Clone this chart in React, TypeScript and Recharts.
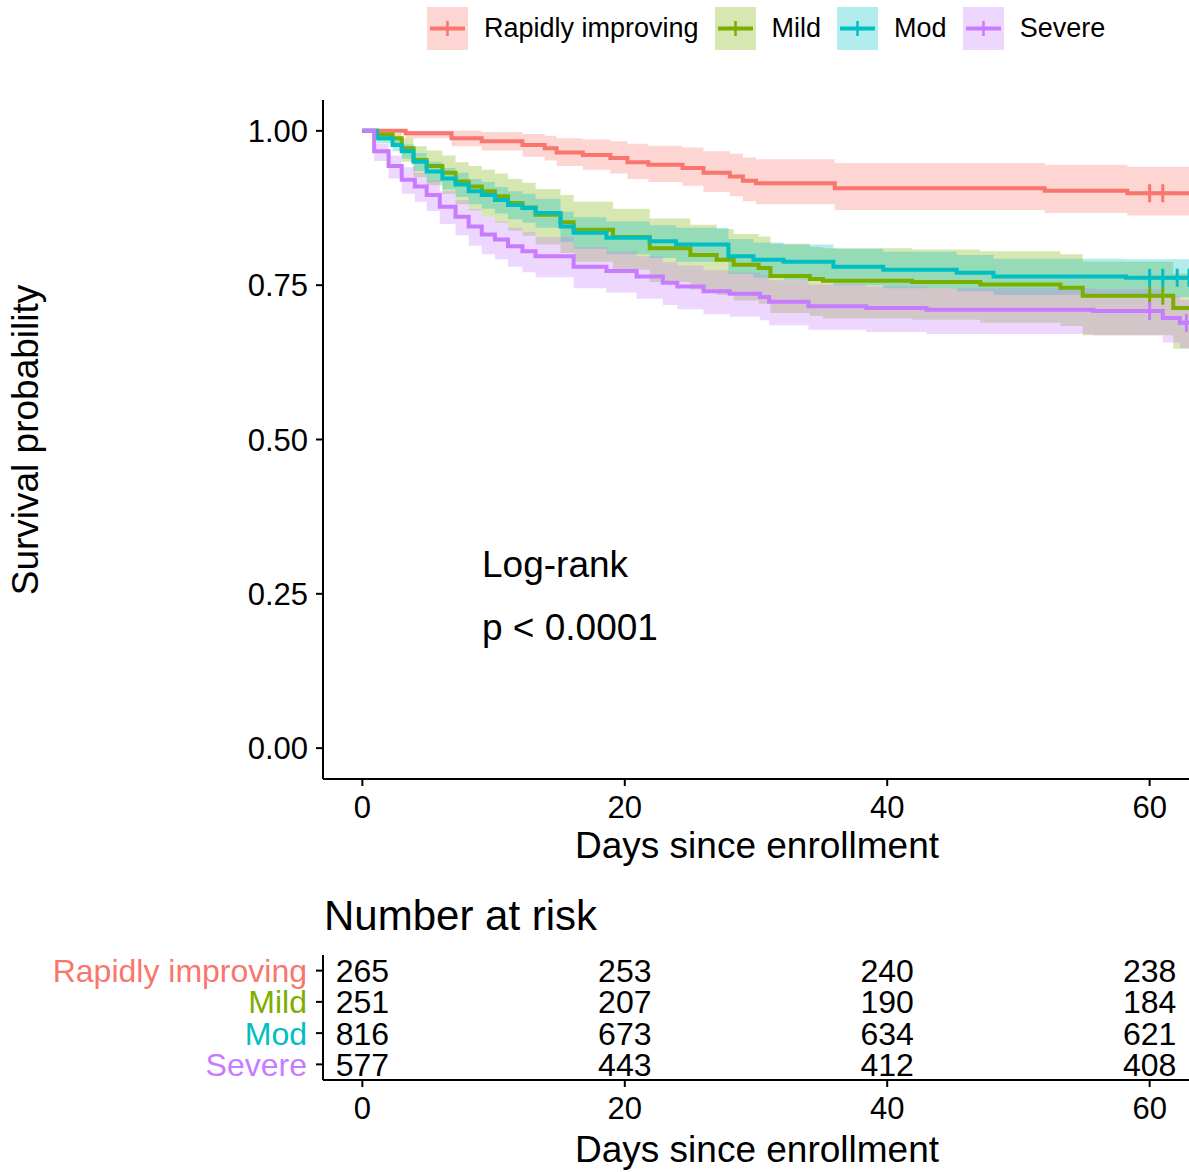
import React from "react";
import { ComposedChart, Line, Area, Scatter, XAxis, YAxis } from "recharts";

const GROUPS = ["Rapidly improving", "Mild", "Mod", "Severe"];
const GROUP_COLORS = ["#F8766D", "#7CAE00", "#00BFC4", "#C77CFF"];

// Rapidly improving
const rapidTime = [0, 3.3, 6.8, 9.1, 12.2, 13.9, 14.8, 16.8, 18.9, 20.2, 21.8, 24.4, 26.0, 28.0, 29.0, 30.0, 36.0, 52.0, 58.3, 63];
const rapidSurv = [1.0, 0.996, 0.988, 0.983, 0.977, 0.972, 0.965, 0.961, 0.956, 0.949, 0.945, 0.94, 0.932, 0.926, 0.919, 0.915, 0.907, 0.903, 0.899, 0.899];
const rapidLow = [1.0, 0.988, 0.975, 0.968, 0.958, 0.952, 0.943, 0.937, 0.931, 0.922, 0.917, 0.911, 0.901, 0.894, 0.886, 0.881, 0.872, 0.867, 0.863, 0.863];
const rapidHigh = [1.0, 1.0, 1.0, 0.998, 0.995, 0.992, 0.988, 0.986, 0.983, 0.979, 0.976, 0.973, 0.967, 0.963, 0.957, 0.954, 0.948, 0.945, 0.942, 0.942];

// Mild
const mildTime = [0, 1.1, 2.3, 3.0, 3.9, 4.9, 6.1, 7.1, 8.1, 9.1, 10.1, 11.1, 12.2, 13.2, 15.1, 16.1, 19.1, 21.9, 25.0, 27.0, 28.3, 30.2, 31.1, 34.1, 35.1, 41.9, 47.1, 53.2, 54.9, 61.8, 63];
const mildSurv = [1.0, 0.994, 0.988, 0.972, 0.953, 0.943, 0.932, 0.918, 0.91, 0.902, 0.894, 0.883, 0.876, 0.864, 0.852, 0.84, 0.828, 0.81, 0.799, 0.791, 0.783, 0.778, 0.765, 0.76, 0.757, 0.755, 0.751, 0.746, 0.733, 0.713, 0.713];
const mildLow = [1.0, 0.984, 0.974, 0.95, 0.925, 0.912, 0.898, 0.881, 0.871, 0.861, 0.851, 0.838, 0.83, 0.816, 0.802, 0.788, 0.775, 0.755, 0.743, 0.734, 0.725, 0.72, 0.705, 0.7, 0.696, 0.694, 0.689, 0.684, 0.669, 0.647, 0.647];
const mildHigh = [1.0, 1.0, 0.996, 0.988, 0.975, 0.968, 0.96, 0.949, 0.943, 0.937, 0.931, 0.922, 0.916, 0.906, 0.896, 0.885, 0.874, 0.858, 0.848, 0.841, 0.833, 0.829, 0.817, 0.812, 0.81, 0.808, 0.805, 0.8, 0.788, 0.769, 0.769];

// Mod
const modTime = [0, 1.1, 2.3, 3.0, 3.9, 4.9, 6.1, 7.1, 8.1, 9.1, 10.1, 11.1, 12.2, 13.2, 15.1, 16.1, 18.6, 21.9, 23.9, 27.9, 29.8, 32.1, 35.9, 39.7, 45.3, 48.1, 58.2, 63];
const modSurv = [1.0, 0.988, 0.977, 0.967, 0.95, 0.934, 0.923, 0.913, 0.902, 0.896, 0.888, 0.88, 0.875, 0.867, 0.845, 0.835, 0.827, 0.821, 0.816, 0.797, 0.791, 0.788, 0.78, 0.775, 0.77, 0.764, 0.762, 0.762];
const modLow = [1.0, 0.98, 0.967, 0.955, 0.935, 0.917, 0.905, 0.893, 0.881, 0.874, 0.866, 0.857, 0.851, 0.843, 0.82, 0.809, 0.8, 0.794, 0.788, 0.768, 0.762, 0.759, 0.75, 0.745, 0.74, 0.734, 0.731, 0.731];
const modHigh = [1.0, 0.996, 0.987, 0.978, 0.964, 0.95, 0.94, 0.932, 0.922, 0.917, 0.909, 0.902, 0.898, 0.89, 0.869, 0.86, 0.853, 0.847, 0.843, 0.825, 0.819, 0.816, 0.809, 0.804, 0.799, 0.793, 0.792, 0.792];

// Severe
const severeTime = [0, 0.9, 2.0, 3.0, 4.0, 4.9, 5.9, 7.1, 8.1, 9.1, 10.1, 11.1, 12.2, 13.2, 16.1, 18.6, 20.9, 22.9, 24.0, 26.0, 28.0, 30.3, 31.0, 34.0, 38.4, 43.0, 55.7, 61.0, 62.3, 63];
const severeSurv = [1.0, 0.967, 0.943, 0.921, 0.91, 0.896, 0.877, 0.861, 0.845, 0.832, 0.824, 0.813, 0.805, 0.797, 0.78, 0.773, 0.764, 0.754, 0.748, 0.74, 0.736, 0.731, 0.723, 0.716, 0.713, 0.71, 0.708, 0.697, 0.689, 0.689];
const severeLow = [1.0, 0.951, 0.923, 0.898, 0.885, 0.87, 0.849, 0.831, 0.814, 0.8, 0.792, 0.78, 0.771, 0.763, 0.745, 0.738, 0.728, 0.718, 0.711, 0.703, 0.699, 0.693, 0.685, 0.678, 0.674, 0.671, 0.669, 0.657, 0.648, 0.648];
const severeHigh = [1.0, 0.979, 0.96, 0.941, 0.932, 0.919, 0.902, 0.888, 0.873, 0.861, 0.853, 0.843, 0.836, 0.828, 0.812, 0.805, 0.797, 0.787, 0.782, 0.774, 0.77, 0.766, 0.758, 0.751, 0.748, 0.745, 0.744, 0.733, 0.726, 0.726];

// censoring marks (+)
const rapidCensor = [60, 61];
const mildCensor = [60, 61];
const modCensor = [60, 61, 62.1, 63];
const severeCensor = [60, 62.8];
const rapidCensorS = [0.899, 0.899];
const mildCensorS = [0.733, 0.733];
const modCensorS = [0.762, 0.762, 0.762, 0.762];
const severeCensorS = [0.708, 0.689];

// number at risk
const riskTimes = [0, 20, 40, 60];
const riskRapid = [265, 253, 240, 238];
const riskMild = [251, 207, 190, 184];
const riskMod = [816, 673, 634, 621];
const riskSevere = [577, 443, 412, 408];
const ROW_POS = [3.5, 2.5, 1.5, 0.5];

const X_TICKS = [0, 20, 40, 60];
const Y_TICKS = [0, 0.25, 0.5, 0.75, 1];

const FONT = '"Liberation Sans", Arial, Helvetica, sans-serif';

function steps(time: number[], surv: number[], low: number[], high: number[]) {
  return time.map((t, i) => ({ t, s: surv[i], band: [low[i], high[i]] }));
}

function marks(time: number[], surv: number[]) {
  return time.map((t, i) => ({ t, s: surv[i] }));
}

const series = [
  { data: steps(rapidTime, rapidSurv, rapidLow, rapidHigh), censor: marks(rapidCensor, rapidCensorS) },
  { data: steps(mildTime, mildSurv, mildLow, mildHigh), censor: marks(mildCensor, mildCensorS) },
  { data: steps(modTime, modSurv, modLow, modHigh), censor: marks(modCensor, modCensorS) },
  { data: steps(severeTime, severeSurv, severeLow, severeHigh), censor: marks(severeCensor, severeCensorS) },
];

const riskData = [riskRapid, riskMild, riskMod, riskSevere].map((counts, g) =>
  riskTimes.map((t, i) => ({ t, row: ROW_POS[g], n: counts[i] }))
);

const axisStyle = { stroke: "#000", strokeWidth: 2 };

function crossShape(color: string) {
  return (props: any) => {
    const { cx, cy } = props;
    if (cx == null || cy == null) return <g />;
    return (
      <g>
        <line x1={cx - 8} x2={cx + 8} y1={cy} y2={cy} stroke={color} strokeWidth={3} />
        <line x1={cx} x2={cx} y1={cy - 9} y2={cy + 9} stroke={color} strokeWidth={3} />
      </g>
    );
  };
}

const countShape = (props: any) => {
  const { cx, cy, payload } = props;
  return (
    <text x={cx} y={cy} dy="0.36em" textAnchor="middle" fontSize={32} fill="#000" fontFamily={FONT}>
      {payload.n}
    </text>
  );
};

const RiskTick = (props: any) => {
  const { x, y, payload } = props;
  const idx = ROW_POS.indexOf(payload.value);
  return (
    <text x={x} y={y} dy="0.36em" textAnchor="end" fontSize={32} fill={GROUP_COLORS[idx]} fontFamily={FONT}>
      {GROUPS[idx]}
    </text>
  );
};

function LegendKey({ color }: { color: string }) {
  return (
    <svg width={41} height={43} style={{ display: "block" }}>
      <rect x={0} y={0} width={41} height={43} fill={color} fillOpacity={0.3} />
      <line x1={3} x2={38} y1={21.5} y2={21.5} stroke={color} strokeWidth={4} />
      <line x1={20.5} x2={20.5} y1={14} y2={29} stroke={color} strokeWidth={2.5} />
    </svg>
  );
}

export default function App() {
  return (
    <div
      style={{
        position: "absolute",
        left: 0,
        top: 0,
        width: 1189,
        height: 1172,
        overflow: "hidden",
        background: "#fff",
        fontFamily: FONT,
        color: "#000",
      }}
    >
      {/* legend */}
      <div style={{ position: "absolute", left: 427, top: 7, height: 43, display: "flex", alignItems: "center" }}>
        {GROUPS.map((g, i) => (
          <div key={g} style={{ display: "flex", alignItems: "center", marginRight: 16 }}>
            <LegendKey color={GROUP_COLORS[i]} />
            <span style={{ marginLeft: 16, fontSize: 27, lineHeight: "43px", whiteSpace: "nowrap" }}>{g}</span>
          </div>
        ))}
      </div>

      {/* survival curves */}
      <div style={{ position: "absolute", left: 0, top: 0 }}>
        <ComposedChart width={1189} height={880} margin={{ top: 100, right: 0, left: 0, bottom: 0 }}>
          <XAxis
            type="number"
            dataKey="t"
            domain={[-3, 63]}
            ticks={X_TICKS}
            allowDataOverflow
            height={101}
            tickSize={7}
            tickMargin={10}
            axisLine={axisStyle}
            tickLine={axisStyle}
            tick={{ fill: "#000", fontSize: 31 }}
          />
          <YAxis
            type="number"
            domain={[-0.05, 1.05]}
            ticks={Y_TICKS}
            allowDataOverflow
            width={323}
            tickSize={7}
            tickMargin={8}
            axisLine={axisStyle}
            tickLine={axisStyle}
            tick={{ fill: "#000", fontSize: 31 }}
            tickFormatter={(v: number) => v.toFixed(2)}
          />
          {series.map((s, i) => (
            <Line
              key={"line" + i}
              data={s.data}
              dataKey="s"
              type="stepAfter"
              stroke={GROUP_COLORS[i]}
              strokeWidth={4}
              dot={false}
              activeDot={false}
              isAnimationActive={false}
            />
          ))}
          {series.map((s, i) => (
            <Area
              key={"band" + i}
              data={s.data}
              dataKey="band"
              type="stepAfter"
              stroke="none"
              fill={GROUP_COLORS[i]}
              fillOpacity={0.3}
              dot={false}
              activeDot={false}
              isAnimationActive={false}
            />
          ))}
          {series.map((s, i) => (
            <Scatter
              key={"cens" + i}
              data={s.censor}
              dataKey="s"
              shape={crossShape(GROUP_COLORS[i])}
              isAnimationActive={false}
            />
          ))}
        </ComposedChart>
      </div>

      <div
        style={{
          position: "absolute",
          left: 25,
          top: 440,
          transform: "translate(-50%, -50%) rotate(-90deg)",
          fontSize: 37,
          lineHeight: "37px",
          whiteSpace: "nowrap",
        }}
      >
        Survival probability
      </div>
      <div style={{ position: "absolute", left: 757, top: 827, transform: "translateX(-50%)", fontSize: 37, lineHeight: "37px", whiteSpace: "nowrap" }}>
        Days since enrollment
      </div>
      <div style={{ position: "absolute", left: 482, top: 546, fontSize: 37, lineHeight: "37px", whiteSpace: "nowrap" }}>
        Log-rank
      </div>
      <div style={{ position: "absolute", left: 482, top: 609, fontSize: 37, lineHeight: "37px", whiteSpace: "nowrap" }}>
        p &lt; 0.0001
      </div>

      {/* number at risk table */}
      <div style={{ position: "absolute", left: 324, top: 895, fontSize: 42, lineHeight: "42px", whiteSpace: "nowrap" }}>
        Number at risk
      </div>
      <div style={{ position: "absolute", left: 0, top: 940 }}>
        <ComposedChart width={1189} height={232} margin={{ top: 15, right: 0, left: 0, bottom: 0 }}>
          <XAxis
            type="number"
            dataKey="t"
            domain={[-3, 63]}
            ticks={X_TICKS}
            allowDataOverflow
            height={92}
            tickSize={7}
            tickMargin={10}
            axisLine={axisStyle}
            tickLine={axisStyle}
            tick={{ fill: "#000", fontSize: 31 }}
          />
          <YAxis
            type="number"
            domain={[0, 4]}
            ticks={ROW_POS}
            allowDataOverflow
            width={323}
            tickSize={7}
            tickMargin={9}
            axisLine={axisStyle}
            tickLine={axisStyle}
            tick={<RiskTick />}
          />
          {riskData.map((d, g) => (
            <Scatter key={"risk" + g} data={d} dataKey="row" shape={countShape} isAnimationActive={false} />
          ))}
        </ComposedChart>
      </div>
      <div style={{ position: "absolute", left: 757, top: 1131, transform: "translateX(-50%)", fontSize: 37, lineHeight: "37px", whiteSpace: "nowrap" }}>
        Days since enrollment
      </div>
    </div>
  );
}
